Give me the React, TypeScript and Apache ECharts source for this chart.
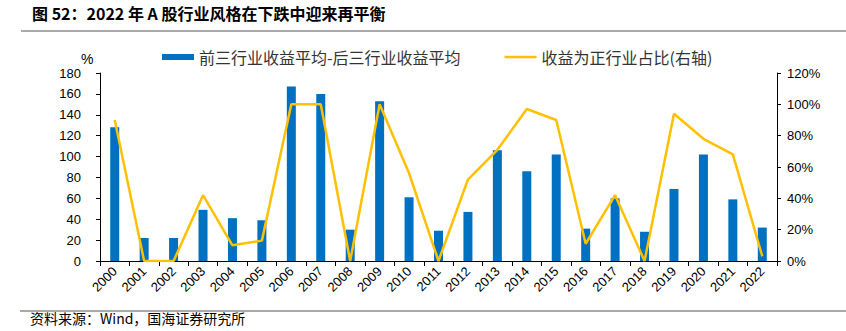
import React, { useEffect, useRef } from "react";
import * as echarts from "echarts";

const years = ["2000","2001","2002","2003","2004","2005","2006","2007","2008","2009","2010","2011","2012","2013","2014","2015","2016","2017","2018","2019","2020","2021","2022"];
const spreadValues = [128,22,22,49,41,39,167,160,30,153,61,29,47,106,86,102,31,60,28,69,102,59,32];
const positiveShare = [90,0,0,42,10,13,100,100,0,100,56,0,52,71,97,90,11,42,0,94,78,68,3];
const leftTicks = { min: 0, max: 180, interval: 20 };
const rightTicks = { min: 0, max: 120, interval: 20 };
const barName = "前三行业收益平均-后三行业收益平均";
const lineName = "收益为正行业占比(右轴)";
const titleText = "图 52：2022 年 A 股行业风格在下跌中迎来再平衡";
const sourceText = "资料来源：Wind，国海证券研究所";

const BLUE = "#0070C0";
const GOLD = "#FFC000";
const NUM_FONT = "'Liberation Sans', Arial, sans-serif";
const CJK_FONT = "'Noto Sans CJK SC', sans-serif";

export default function App() {
  const ref = useRef<HTMLDivElement>(null);
  useEffect(() => {
    if (!ref.current) return;
    const chart = echarts.init(ref.current, null, { renderer: "svg" });
    chart.setOption({
      animation: false,
      backgroundColor: "#ffffff",
      grid: { left: 100, right: 69, top: 73, bottom: 70, containLabel: false },
      legend: {
        left: 157,
        top: 44,
        itemWidth: 32,
        itemHeight: 6,
        itemGap: 44,
        textStyle: { fontFamily: CJK_FONT, fontSize: 16, color: "#333" },
        data: [
          { name: barName, icon: "rect" },
          { name: lineName, icon: "path://M0 0 H100 V8 H0 Z" },
        ],
      },
      xAxis: {
        type: "category",
        data: years,
        boundaryGap: true,
        axisLine: { show: true, lineStyle: { color: "#000", width: 1 } },
        axisTick: { show: true, length: 5, lineStyle: { color: "#000" } },
        axisLabel: {
          interval: 0,
          rotate: 45,
          fontFamily: NUM_FONT,
          fontSize: 13,
          color: "#000",
          margin: 8,
        },
      },
      yAxis: [
        {
          type: "value",
          ...leftTicks,
          splitLine: { show: false },
          axisLine: { show: true, lineStyle: { color: "#000" } },
          axisTick: { show: true, length: 4, lineStyle: { color: "#000" } },
          axisLabel: { fontFamily: NUM_FONT, fontSize: 13, color: "#000", margin: 19 },
        },
        {
          type: "value",
          ...rightTicks,
          position: "right",
          splitLine: { show: false },
          axisLine: { show: true, lineStyle: { color: "#000" } },
          axisTick: { show: true, length: 4, lineStyle: { color: "#000" } },
          axisLabel: { fontFamily: NUM_FONT, fontSize: 13, color: "#000", margin: 10, formatter: "{value}%" },
        },
      ],
      series: [
        {
          name: barName,
          type: "bar",
          data: spreadValues,
          barWidth: 9,
          itemStyle: { color: BLUE },
          yAxisIndex: 0,
        },
        {
          name: lineName,
          type: "line",
          data: positiveShare,
          yAxisIndex: 1,
          symbol: "none",
          lineStyle: { color: GOLD, width: 2.5 },
          itemStyle: { color: GOLD },
        },
      ],
      graphic: [
        {
          type: "text",
          left: 32,
          top: 5,
          style: { text: titleText, font: `bold 16px ${CJK_FONT}`, fill: "#000" },
        },
        {
          type: "line",
          shape: { x1: 21, y1: 31, x2: 846, y2: 31 },
          style: { stroke: "#555", lineWidth: 1 },
        },
        {
          type: "text",
          left: 81,
          top: 52,
          style: { text: "%", font: `14px ${NUM_FONT}`, fill: "#000" },
        },
        {
          type: "line",
          shape: { x1: 20, y1: 311, x2: 846, y2: 311 },
          style: { stroke: "#555", lineWidth: 1 },
        },
        {
          type: "text",
          x: 30,
          y: 318,
          style: { text: sourceText, font: `14px ${CJK_FONT}`, fill: "#000", verticalAlign: "middle" },
        },
      ],
    });
    return () => chart.dispose();
  }, []);
  return <div ref={ref} style={{ width: 846, height: 331, position: "absolute", left: 0, top: 0 }} />;
}
